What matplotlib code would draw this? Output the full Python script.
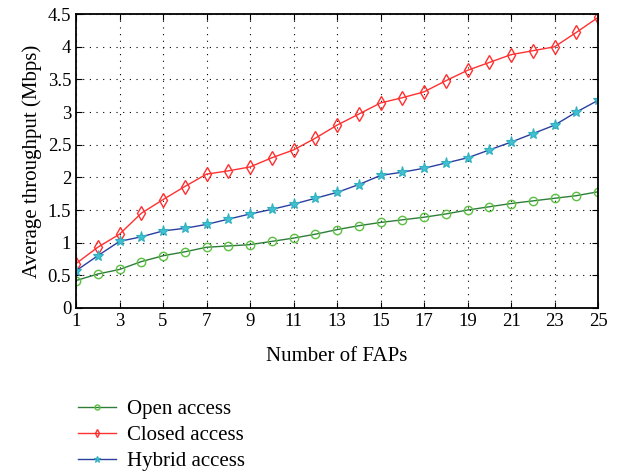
import numpy as np
import matplotlib.pyplot as plt
from matplotlib.ticker import FuncFormatter

plt.rcParams['font.family'] = ['Liberation Serif', 'DejaVu Serif']

faps = np.arange(1, 26)
open_access = [0.42, 0.52, 0.59, 0.71, 0.80, 0.86, 0.93, 0.95, 0.97, 1.02, 1.07, 1.13, 1.20,
               1.26, 1.31, 1.35, 1.39, 1.44, 1.50, 1.55, 1.60, 1.64, 1.68, 1.72, 1.78]
closed_access = [0.68, 0.93, 1.13, 1.45, 1.66, 1.86, 2.05, 2.10, 2.16, 2.30, 2.42, 2.60, 2.80,
                 2.97, 3.14, 3.22, 3.31, 3.48, 3.64, 3.76, 3.88, 3.94, 4.00, 4.22, 4.45]
hybrid_access = [0.57, 0.80, 1.02, 1.09, 1.18, 1.22, 1.28, 1.36, 1.44, 1.51, 1.59, 1.68, 1.77,
                 1.89, 2.03, 2.08, 2.14, 2.22, 2.30, 2.42, 2.54, 2.67, 2.80, 3.00, 3.18]

fig = plt.figure(figsize=(6.2, 4.72), dpi=100)
ax = fig.add_axes([0.1226, 0.3475, 0.842, 0.6225])

ax.plot(faps, open_access, color='#2e7d3a', lw=1.0, marker='o', ms=6,
        mfc='none', mec='#5cc040', mew=1.0, label='Open access')
ax.plot(faps, closed_access, color='#ff3030', lw=1.0, marker='d', ms=7,
        mfc='none', mec='#ff3030', mew=1.0, label='Closed access')
ax.plot(faps, hybrid_access, color='#2a3fa0', lw=1.0, marker='*', ms=8,
        mfc='#40c0d0', mec='#30b0c0', mew=0.8, label='Hybrid access')

ax.set_xlim(1, 25)
ax.set_ylim(0, 4.5)
ax.set_xticks(np.arange(1, 26, 2))
ax.set_yticks(np.arange(0, 4.51, 0.5))
ax.yaxis.set_major_formatter(FuncFormatter(lambda v, p: f'{v:g}'))
ax.grid(True, linestyle=(0, (1, 5)), color='black', lw=0.8)
ax.tick_params(direction='in', labelsize=13.5, length=4, top=True, right=True,
               labeltop=False, labelright=False)
for s in ax.spines.values():
    s.set_linewidth(1.3)

ax.set_xlabel('Number of FAPs', fontsize=15, labelpad=12)
ax.set_ylabel('Average throughput (Mbps)', fontsize=15, labelpad=4)

ax.legend(loc='upper left', bbox_to_anchor=(-0.032, -0.248), frameon=False,
          fontsize=15, handlelength=1.8, handletextpad=0.55, labelspacing=0.3,
          markerscale=0.6)

fig.savefig('out.png', dpi=100)
